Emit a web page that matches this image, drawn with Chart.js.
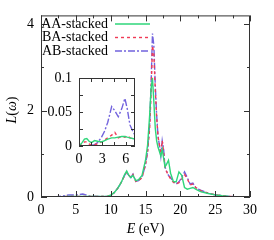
<!DOCTYPE html>
<html>
<head>
<meta charset="utf-8">
<script src="https://cdn.jsdelivr.net/npm/chart.js@4"></script>
<style>
  html, body { margin: 0; padding: 0; background: #fff; }
  #wrap { position: relative; width: 274px; height: 240px; }
  canvas { position: absolute; left: 0; top: 0; }
</style>
</head>
<body>
<div id="wrap">
  <canvas id="mainChart" width="274" height="240"></canvas>
  <canvas id="insetChart" width="274" height="240"></canvas>
</div>
<script>
// main panel, energy in eV
const energy = [0, 1, 2, 3, 4, 5, 6, 7, 8, 9, 9.5, 10, 10.5, 11, 11.5, 12, 12.3, 12.6, 12.9, 13.2, 13.6, 14, 14.5, 15, 15.3, 15.6, 15.8, 16, 16.2, 16.4, 16.6, 16.8, 17, 17.2, 17.4, 17.6, 17.8, 18, 18.3, 18.6, 19, 19.4, 19.8, 20.2, 20.6, 21, 21.4, 21.8, 22.2, 22.6, 23, 24, 25, 26, 27, 28, 29, 30];
const aaStacked = [0, 0.008, 0.008, 0.007, 0.012, 0.013, 0.014, 0.011, 0.01, 0.01, 0.015, 0.04, 0.1, 0.2, 0.33, 0.52, 0.6, 0.5, 0.45, 0.5, 0.38, 0.4, 0.5, 0.85, 1.2, 1.9, 2.5, 2.75, 2.2, 1.6, 1.3, 1.15, 1.05, 0.95, 1.1, 0.9, 0.7, 0.75, 0.85, 0.55, 0.36, 0.35, 0.58, 0.5, 0.22, 0.18, 0.2, 0.22, 0.18, 0.15, 0.12, 0.08, 0.05, 0.03, 0.015, 0.008, 0.004, 0.002];
const baStacked = [0, 0.005, 0.003, 0.007, 0.014, 0.013, 0.014, 0.01, 0.01, 0.01, 0.015, 0.04, 0.1, 0.2, 0.33, 0.5, 0.58, 0.5, 0.46, 0.52, 0.36, 0.38, 0.45, 0.75, 1.05, 1.6, 2.4, 3.5, 3.3, 2.5, 1.85, 1.4, 1.2, 1.0, 1.3, 1.05, 0.7, 0.6, 0.5, 0.42, 0.34, 0.3, 0.33, 0.42, 0.52, 0.42, 0.28, 0.3, 0.22, 0.18, 0.14, 0.09, 0.05, 0.03, 0.015, 0.008, 0.004, 0.002];
const abStacked = [0, 0, 0.004, 0.02, 0.05, 0.045, 0.068, 0.02, 0.01, 0.01, 0.01, 0.03, 0.1, 0.2, 0.33, 0.5, 0.57, 0.5, 0.45, 0.53, 0.36, 0.38, 0.45, 0.75, 1.05, 1.7, 2.6, 3.78, 3.5, 2.6, 1.9, 1.4, 1.2, 0.95, 1.3, 1.1, 0.7, 0.6, 0.5, 0.45, 0.35, 0.3, 0.35, 0.45, 0.58, 0.45, 0.3, 0.32, 0.22, 0.18, 0.15, 0.09, 0.05, 0.03, 0.015, 0.008, 0.004, 0.002];

// inset, 0-7.2 eV
const insetEnergy = [0, 0.4, 0.7, 1.0, 1.3, 1.6, 2.0, 2.4, 2.9, 3.3, 3.7, 4.2, 4.6, 5.05, 5.5, 5.9, 6.2, 6.55, 6.9, 7.2];
const insetAA = [0, 0.005, 0.01, 0.011, 0.007, 0.005, 0.008, 0.007, 0.006, 0.008, 0.01, 0.012, 0.012, 0.013, 0.014, 0.014, 0.013, 0.012, 0.011, 0.01];
const insetBA = [0, 0.003, 0.006, 0.006, 0.003, 0.001, 0.002, 0.003, 0.006, 0.009, 0.012, 0.016, 0.02, 0.012, 0.014, 0.013, 0.015, 0.012, 0.011, 0.01];
const insetAB = [0, 0, 0, 0, 0, 0.001, 0.002, 0.005, 0.013, 0.022, 0.035, 0.058, 0.052, 0.043, 0.055, 0.07, 0.055, 0.031, 0.022, 0.016];

const seriesNames = ["AA-stacked", "BA-stacked", "AB-stacked"];
const xTickLabels = [0, 5, 10, 15, 20, 25, 30];
const yTickLabels = [0, 2, 4];
const insetXTickLabels = [0, 3, 6];
const insetYTickLabels = [0, 0.05, 0.1];

const colors = ["#2ed67a", "#f03a55", "#7263dd"];
const dashes = [[], [3, 3], [7, 2, 2, 2]];
const font = "'Liberation Serif', 'DejaVu Serif', serif";
const frameColor = "#333";

function points(xs, ys) {
  return xs.map((x, i) => ({ x, y: ys[i] }));
}

function datasets(xs, lists) {
  return lists.map((ys, i) => ({
    label: seriesNames[i],
    data: points(xs, ys),
    borderColor: colors[i],
    borderDash: dashes[i],
    borderWidth: 1.4,
    pointRadius: 0,
    tension: 0,
    fill: false
  }));
}

// frame + inward ticks, gnuplot style
function framePlugin(xStep, yStep, xMajor, yMajor, len) {
  return {
    id: "frame",
    afterDraw(chart) {
      const { ctx, chartArea: a, scales } = chart;
      const xs = scales.x, ys = scales.y;
      ctx.save();
      ctx.strokeStyle = frameColor;
      ctx.lineWidth = 1;
      ctx.setLineDash([]);
      ctx.strokeRect(a.left + 0.5, a.top + 0.5, a.right - a.left - 1, a.bottom - a.top - 1);
      ctx.beginPath();
      for (let v = xs.min; v <= xs.max + 1e-9; v += xStep) {
        const px = Math.round(xs.getPixelForValue(v)) + 0.5;
        const l = Math.abs(v / xMajor - Math.round(v / xMajor)) < 1e-6 ? len : len / 2;
        ctx.moveTo(px, a.bottom); ctx.lineTo(px, a.bottom - l);
        ctx.moveTo(px, a.top); ctx.lineTo(px, a.top + l);
      }
      for (let v = ys.min; v <= ys.max + 1e-9; v += yStep) {
        const py = Math.round(ys.getPixelForValue(v)) + 0.5;
        const l = Math.abs(v / yMajor - Math.round(v / yMajor)) < 1e-6 ? len : len / 2;
        ctx.moveTo(a.left, py); ctx.lineTo(a.left + l, py);
        ctx.moveTo(a.right, py); ctx.lineTo(a.right - l, py);
      }
      ctx.stroke();
      ctx.restore();
    }
  };
}

const labelsPlugin = {
  id: "labels",
  afterDraw(chart) {
    const { ctx, chartArea: a } = chart;
    ctx.save();
    ctx.fillStyle = "#000";
    ctx.textBaseline = "middle";
    // x title
    const cx = (a.left + a.right) / 2;
    ctx.font = "italic 14px " + font;
    const wE = ctx.measureText("E").width;
    ctx.font = "14px " + font;
    const wR = ctx.measureText(" (eV)").width;
    const x0 = cx - (wE + wR) / 2;
    ctx.textAlign = "left";
    ctx.font = "italic 14px " + font;
    ctx.fillText("E", x0, 229);
    ctx.font = "14px " + font;
    ctx.fillText(" (eV)", x0 + wE, 229);
    // y title
    ctx.translate(12, 110);
    ctx.rotate(-Math.PI / 2);
    const parts = ["L", "(", "ω", ")"];
    const ital = [true, false, true, false];
    let w = 0;
    parts.forEach((p, i) => { ctx.font = (ital[i] ? "italic " : "") + "14px " + font; w += ctx.measureText(p).width; });
    let px = -w / 2;
    parts.forEach((p, i) => {
      ctx.font = (ital[i] ? "italic " : "") + "14px " + font;
      ctx.fillText(p, px, 0);
      px += ctx.measureText(p).width;
    });
    ctx.restore();

    // key
    ctx.save();
    ctx.font = "14px " + font;
    ctx.textBaseline = "middle";
    ctx.textAlign = "right";
    const rows = [24, 37.5, 51];
    seriesNames.forEach((name, i) => {
      ctx.fillStyle = "#000";
      ctx.fillText(name, 108, rows[i]);
      ctx.strokeStyle = colors[i];
      ctx.lineWidth = 1.4;
      ctx.setLineDash(dashes[i]);
      ctx.beginPath();
      ctx.moveTo(115, rows[i]);
      ctx.lineTo(150, rows[i]);
      ctx.stroke();
    });
    ctx.restore();
  }
};

function fixedWidth(w) { return scale => { scale.width = w; }; }
function fixedHeight(h) { return scale => { scale.height = h; }; }
const plainLabel = v => String(v);

new Chart(document.getElementById("mainChart"), {
  type: "line",
  data: { datasets: datasets(energy, [aaStacked, baStacked, abStacked]) },
  options: {
    responsive: false,
    animation: false,
    devicePixelRatio: 1,
    layout: { padding: { top: 13, right: 24, left: 0, bottom: 0 } },
    plugins: { legend: { display: false }, tooltip: { enabled: false } },
    scales: {
      x: {
        type: "linear", min: 0, max: 30,
        afterFit: fixedHeight(43),
        afterBuildTicks: s => { s.ticks = xTickLabels.map(v => ({ value: v })); },
        grid: { display: false, drawTicks: false },
        border: { display: false },
        ticks: { color: "#000", font: { family: font, size: 14 }, padding: 5, maxRotation: 0, callback: plainLabel }
      },
      y: {
        type: "linear", min: 0, max: 4.2,
        afterFit: fixedWidth(41),
        afterBuildTicks: s => { s.ticks = yTickLabels.map(v => ({ value: v })); },
        grid: { display: false, drawTicks: false },
        border: { display: false },
        ticks: { color: "#000", font: { family: font, size: 14 }, padding: 7, callback: plainLabel }
      }
    }
  },
  plugins: [framePlugin(2.5, 1, 5, 2, 6), labelsPlugin]
});

new Chart(document.getElementById("insetChart"), {
  type: "line",
  data: { datasets: datasets(insetEnergy, [insetAA, insetBA, insetAB]) },
  options: {
    responsive: false,
    animation: false,
    devicePixelRatio: 1,
    layout: { padding: { top: 78, right: 139, left: 0, bottom: 0 } },
    plugins: { legend: { display: false }, tooltip: { enabled: false } },
    scales: {
      x: {
        type: "linear", min: 0, max: 7.2,
        afterFit: fixedHeight(94),
        afterBuildTicks: s => { s.ticks = insetXTickLabels.map(v => ({ value: v })); },
        grid: { display: false, drawTicks: false },
        border: { display: false },
        ticks: { color: "#000", font: { family: font, size: 14 }, padding: 5, maxRotation: 0, callback: plainLabel }
      },
      y: {
        type: "linear", min: 0, max: 0.1,
        afterFit: fixedWidth(79),
        afterBuildTicks: s => { s.ticks = insetYTickLabels.map(v => ({ value: v })); },
        grid: { display: false, drawTicks: false },
        border: { display: false },
        ticks: { color: "#000", font: { family: font, size: 14 }, padding: 7, callback: plainLabel }
      }
    }
  },
  plugins: [framePlugin(1.5, 0.025, 1.5, 0.025, 4)]
});
</script>
</body>
</html>
